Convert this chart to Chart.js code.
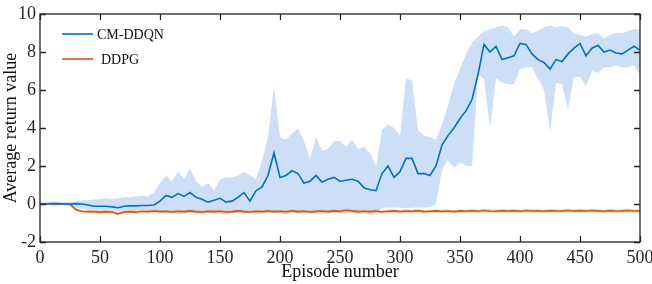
<!DOCTYPE html>
<html>
<head>
<meta charset="utf-8">
<script src="https://cdn.jsdelivr.net/npm/chart.js@4"></script>
<style>
  html, body { margin: 0; padding: 0; background: #fff; }
  #wrap { width: 652px; height: 284px; }
</style>
</head>
<body>
<div id="wrap"><canvas id="chartDiv"></canvas></div>
<script>
const episodes = [0, 5, 10, 15, 20, 25, 30, 35, 40, 45, 50, 55, 60, 65, 70, 75, 80, 85, 90, 95,
  100, 105, 110, 115, 120, 125, 130, 135, 140, 145, 150, 155, 160, 165, 170, 175, 180, 185, 190, 195,
  200, 205, 210, 215, 220, 225, 230, 235, 240, 245, 250, 255, 260, 265, 270, 275, 280, 285, 290, 295,
  300, 305, 310, 315, 320, 325, 330, 335, 340, 345, 350, 355, 360, 365, 370, 375, 380, 385, 390, 395,
  400, 405, 410, 415, 420, 425, 430, 435, 440, 445, 450, 455, 460, 465, 470, 475, 480, 485, 490, 495, 500]

const ddqnMean = [0, 0, 0.03, 0.02, 0, 0, 0.02, 0, -0.05, -0.12, -0.12, -0.12, -0.15, -0.2, -0.12, -0.1, -0.1, -0.08, -0.08, -0.05,
  0.15, 0.45, 0.35, 0.55, 0.4, 0.6, 0.35, 0.25, 0.1, 0.2, 0.3, 0.1, 0.15, 0.35, 0.6, 0.15, 0.7, 0.9, 1.5, 2.7,
  1.4, 1.5, 1.75, 1.6, 1.1, 1.2, 1.5, 1.15, 1.3, 1.4, 1.2, 1.25, 1.3, 1.2, 0.85, 0.75, 0.7, 1.6, 2.0, 1.4,
  1.7, 2.4, 2.4, 1.6, 1.6, 1.5, 2.0, 3.1, 3.6, 4.0, 4.5, 4.9, 5.5, 6.8, 8.4, 8.0, 8.3, 7.6, 7.7, 7.8,
  8.45, 8.4, 7.9, 7.6, 7.45, 7.1, 7.6, 7.5, 7.9, 8.2, 8.45, 7.8, 8.2, 8.35, 8.0, 8.1, 7.95, 7.9, 8.1, 8.3, 8.1]

const ddqnUpper = [0.1, 0.1, 0.15, 0.1, 0.1, 0.1, 0.15, 0.2, 0.2, 0.25, 0.25, 0.3, 0.25, 0.3, 0.35, 0.35, 0.4, 0.45, 0.4, 0.6,
  1.1, 1.5, 1.2, 1.7, 1.3, 1.9, 1.2, 0.9, 1.1, 0.7, 1.3, 1.4, 1.4, 1.5, 1.7, 1.5, 1.3, 2.3, 3.5, 6.2,
  3.5, 3.4, 3.7, 4.0, 3.3, 2.4, 3.5, 2.8, 2.9, 3.3, 3.3, 3.0, 3.4, 2.9, 3.0, 2.7, 2.0, 3.9, 4.2, 4.0,
  3.6, 6.6, 6.5, 3.9, 3.6, 3.5, 3.4, 4.2, 5.2, 6.3, 7.1, 7.9, 8.5, 8.8, 9.1, 9.2, 9.3, 9.4, 9.3, 8.8,
  9.2, 9.2, 9.0, 9.1, 9.3, 9.4, 9.3, 9.35, 9.3, 9.0, 8.9, 8.8, 8.95, 9.0, 8.7, 8.9, 9.0, 9.0, 9.1, 9.2, 9.2]

const ddqnLower = [-0.05, -0.05, -0.1, -0.1, -0.05, -0.1, -0.2, -0.25, -0.3, -0.3, -0.35, -0.3, -0.35, -0.4, -0.35, -0.35, -0.35, -0.3, -0.35, -0.35,
  -0.45, -0.5, -0.45, -0.55, -0.5, -0.45, -0.5, -0.55, -0.45, -0.5, -0.5, -0.55, -0.45, -0.5, -0.5, -0.45, -0.55, -0.5, -0.5, -0.45,
  -0.5, -0.55, -0.45, -0.5, -0.5, -0.45, -0.5, -0.55, -0.5, -0.45, -0.5, -0.5, -0.45, -0.55, -0.5, -0.58, -0.55, -0.2, -0.2, -0.18,
  -0.2, -0.22, -0.2, -0.18, -0.2, -0.15, 0.0, 1.8, 2.3, 1.9, 2.2, 2.0, 2.0, 6.8, 6.6, 4.0, 6.6, 6.4, 6.3, 6.3,
  7.1, 7.2, 7.2, 6.6, 6.0, 3.8, 6.4, 6.3, 5.0, 6.7, 6.7, 6.2, 7.0, 6.9, 7.2, 7.2, 7.3, 7.2, 7.2, 7.3, 6.8]

const ddpgMean = [0, 0, 0, 0.01, 0, -0.02, -0.3, -0.38, -0.4, -0.4, -0.43, -0.4, -0.42, -0.52, -0.42, -0.4, -0.43, -0.38, -0.4, -0.37,
  -0.4, -0.38, -0.42, -0.38, -0.4, -0.36, -0.4, -0.42, -0.38, -0.4, -0.38, -0.42, -0.4, -0.36, -0.4, -0.42, -0.38, -0.4, -0.37, -0.4,
  -0.38, -0.41, -0.36, -0.4, -0.38, -0.42, -0.39, -0.37, -0.4, -0.36, -0.38, -0.33, -0.36, -0.4, -0.38, -0.4, -0.37, -0.42, -0.38, -0.36,
  -0.4, -0.37, -0.38, -0.35, -0.4, -0.38, -0.36, -0.39, -0.37, -0.4, -0.36, -0.38, -0.35, -0.38, -0.34, -0.37, -0.38, -0.35, -0.37, -0.35,
  -0.38, -0.34, -0.37, -0.36, -0.38, -0.35, -0.37, -0.36, -0.34, -0.37, -0.35, -0.37, -0.34, -0.36, -0.38, -0.35, -0.37, -0.36, -0.34, -0.37, -0.36]

const ddpgUpper = [0.02, 0.03, 0.02, 0.04, 0.03, 0.02, -0.22, -0.3, -0.32, -0.31, -0.35, -0.3, -0.33, -0.44, -0.33, -0.31, -0.35, -0.29, -0.31, -0.28,
  -0.31, -0.3, -0.33, -0.28, -0.32, -0.27, -0.31, -0.33, -0.29, -0.31, -0.29, -0.33, -0.31, -0.27, -0.31, -0.33, -0.3, -0.31, -0.28, -0.31,
  -0.29, -0.32, -0.27, -0.31, -0.29, -0.33, -0.3, -0.28, -0.31, -0.27, -0.29, -0.24, -0.27, -0.31, -0.29, -0.31, -0.28, -0.33, -0.29, -0.27,
  -0.31, -0.28, -0.29, -0.26, -0.31, -0.29, -0.27, -0.3, -0.28, -0.31, -0.27, -0.29, -0.26, -0.29, -0.25, -0.28, -0.29, -0.26, -0.28, -0.26,
  -0.29, -0.24, -0.28, -0.26, -0.29, -0.26, -0.28, -0.27, -0.25, -0.28, -0.26, -0.28, -0.25, -0.27, -0.29, -0.26, -0.28, -0.27, -0.25, -0.28, -0.27]

const ddpgLower = [-0.03, -0.02, -0.04, -0.03, -0.04, -0.06, -0.38, -0.47, -0.49, -0.5, -0.52, -0.49, -0.51, -0.6, -0.51, -0.49, -0.52, -0.47, -0.49, -0.46,
  -0.49, -0.47, -0.51, -0.47, -0.49, -0.45, -0.49, -0.51, -0.47, -0.49, -0.47, -0.51, -0.49, -0.45, -0.49, -0.51, -0.47, -0.49, -0.46, -0.49,
  -0.47, -0.5, -0.45, -0.49, -0.47, -0.51, -0.48, -0.46, -0.49, -0.45, -0.47, -0.42, -0.45, -0.49, -0.47, -0.49, -0.46, -0.51, -0.47, -0.45,
  -0.49, -0.46, -0.47, -0.44, -0.49, -0.47, -0.45, -0.48, -0.46, -0.49, -0.45, -0.47, -0.44, -0.47, -0.43, -0.46, -0.47, -0.44, -0.46, -0.44,
  -0.47, -0.43, -0.46, -0.45, -0.47, -0.44, -0.46, -0.45, -0.43, -0.46, -0.44, -0.46, -0.43, -0.45, -0.47, -0.44, -0.46, -0.45, -0.43, -0.46, -0.45]

const xTicks = [0, 50, 100, 150, 200, 250, 300, 350, 400, 450, 500]
const yTicks = [-2, 0, 2, 4, 6, 8, 10]

const pts = arr => arr.map((v, i) => ({ x: episodes[i], y: v }))
const serif = '"Liberation Serif", "Times New Roman", serif'

// boxed axes with inward ticks on all four sides, plus the inset legend
const frame = {
  id: 'frame',
  afterDatasetsDraw(chart) {
    const { ctx, chartArea: a, scales: { x, y } } = chart
    ctx.save()
    ctx.strokeStyle = '#262626'
    ctx.lineWidth = 1.3
    ctx.strokeRect(a.left, a.top, a.right - a.left, a.bottom - a.top)
    ctx.beginPath()
    xTicks.forEach(t => {
      const px = Math.round(x.getPixelForValue(t)) + 0.5
      ctx.moveTo(px, a.bottom); ctx.lineTo(px, a.bottom - 6)
      ctx.moveTo(px, a.top); ctx.lineTo(px, a.top + 6)
    })
    yTicks.forEach(t => {
      const py = Math.round(y.getPixelForValue(t)) + 0.5
      ctx.moveTo(a.left, py); ctx.lineTo(a.left + 6, py)
      ctx.moveTo(a.right, py); ctx.lineTo(a.right - 6, py)
    })
    ctx.stroke()

    const items = [
      { text: 'CM-DDQN', color: '#0072BD', y: 34, tx: 97 },
      { text: 'DDPG', color: '#D95319', y: 59, tx: 101 }
    ]
    ctx.font = '14px ' + serif
    ctx.textBaseline = 'middle'
    items.forEach(it => {
      ctx.strokeStyle = it.color
      ctx.lineWidth = 1.6
      ctx.beginPath()
      ctx.moveTo(62, it.y); ctx.lineTo(93, it.y)
      ctx.stroke()
      ctx.fillStyle = '#111'
      ctx.fillText(it.text, it.tx, it.y + 1)
    })
    ctx.restore()
  }
}

new Chart(document.getElementById('chartDiv'), {
  type: 'line',
  data: {
    datasets: [
      { label: 'CM-DDQN', data: pts(ddqnMean), borderColor: '#0072BD', borderWidth: 1.6, order: 0 },
      { label: 'DDPG', data: pts(ddpgMean), borderColor: '#D95319', borderWidth: 1.6, order: 1 },
      { label: 'ddpgLo', data: pts(ddpgLower), borderWidth: 0, order: 3 },
      { label: 'ddpgHi', data: pts(ddpgUpper), borderWidth: 0, fill: '-1', backgroundColor: 'rgba(240, 180, 110, 0.45)', order: 2 },
      { label: 'ddqnLo', data: pts(ddqnLower), borderWidth: 0, order: 5 },
      { label: 'ddqnHi', data: pts(ddqnUpper), borderWidth: 0, fill: '-1', backgroundColor: '#cddff6', order: 4 }
    ]
  },
  options: {
    responsive: true,
    maintainAspectRatio: false,
    animation: false,
    elements: { point: { radius: 0 }, line: { tension: 0 } },
    layout: { padding: { top: 14, right: 12, left: 0, bottom: 0 } },
    scales: {
      x: {
        type: 'linear',
        min: 0,
        max: 500,
        afterFit: s => { s.height = 42; s.paddingLeft = 0; s.paddingRight = 0 },
        afterBuildTicks: s => { s.ticks = xTicks.map(v => ({ value: v })) },
        grid: { display: false, drawTicks: false },
        border: { display: false },
        ticks: {
          color: '#262626',
          padding: 5,
          maxRotation: 0,
          font: { size: 18, family: serif }
        },
        title: {
          display: true,
          text: 'Episode number',
          color: '#111',
          padding: { top: 0, bottom: 1 },
          font: { size: 18, family: serif }
        }
      },
      y: {
        min: -2,
        max: 10,
        afterFit: s => { s.width = 40; s.paddingTop = 0; s.paddingBottom = 0 },
        afterBuildTicks: s => { s.ticks = yTicks.map(v => ({ value: v })) },
        grid: { display: false, drawTicks: false },
        border: { display: false },
        ticks: {
          color: '#262626',
          padding: 4,
          font: { size: 18, family: serif }
        },
        title: {
          display: true,
          text: 'Average return value',
          color: '#111',
          padding: { top: 0, bottom: 0 },
          font: { size: 18, family: serif }
        }
      }
    },
    plugins: {
      legend: { display: false },
      tooltip: { enabled: false }
    }
  },
  plugins: [frame]
})
</script>
</body>
</html>
